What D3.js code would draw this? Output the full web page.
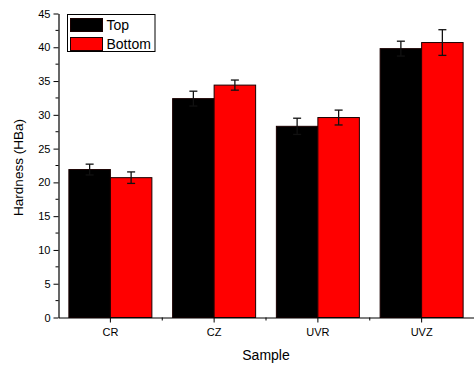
<!DOCTYPE html>
<html>
<head>
<meta charset="utf-8">
<script src="https://cdn.jsdelivr.net/npm/d3@7"></script>
<style>
  html, body { margin: 0; padding: 0; background: #fff; }
  svg { display: block; font-family: Arial, "Liberation Sans", sans-serif; }
</style>
</head>
<body>
<svg id="chart" width="475" height="365"></svg>
<script>
// Hardness by sample, top and bottom surfaces
const categories = ["CR", "CZ", "UVR", "UVZ"];
const seriesNames = ["Top", "Bottom"];
const topValues = [21.9, 32.4, 28.3, 39.8];
const topErrors = [0.8, 1.1, 1.2, 1.1];
const bottomValues = [20.7, 34.4, 29.6, 40.7];
const bottomErrors = [0.85, 0.75, 1.1, 1.9];
const yTicks = [0, 5, 10, 15, 20, 25, 30, 35, 40, 45];
const seriesColors = ["#000000", "#ff0000"];

const svg = d3.select("#chart");
const margin = { left: 58.5, right: 1.5, top: 13.5, bottom: 47.5 };
const W = 475, H = 365;
const x0 = margin.left, x1 = W - margin.right;
const y0 = H - margin.bottom, y1 = margin.top;

const x = d3.scaleBand().domain(categories).range([x0, x1]).paddingInner(0.2).paddingOuter(0.1);
const step = (x1 - x0) / categories.length;
const xSub = d3.scaleBand().domain(seriesNames).range([0, x.bandwidth()]);
const y = d3.scaleLinear().domain([0, 45]).range([y0, y1]);

const rows = categories.map((c, i) => ({
  cat: c,
  vals: [
    { s: "Top", v: topValues[i], e: topErrors[i], color: seriesColors[0] },
    { s: "Bottom", v: bottomValues[i], e: bottomErrors[i], color: seriesColors[1] }
  ]
}));

// Bars
const g = svg.append("g");
const groups = g.selectAll("g.cat").data(rows).join("g")
  .attr("transform", d => `translate(${x(d.cat)},0)`);
groups.selectAll("rect").data(d => d.vals).join("rect")
  .attr("x", d => xSub(d.s))
  .attr("width", xSub.bandwidth())
  .attr("y", d => y(d.v))
  .attr("height", d => y(0) - y(d.v))
  .attr("fill", d => d.color)
  .attr("stroke", "#1a0000")
  .attr("stroke-width", 1);

// Error bars
const eb = groups.selectAll("g.err").data(d => d.vals).join("g")
  .attr("stroke", "#111").attr("stroke-width", 1.3).attr("fill", "none");
const cx = d => xSub(d.s) + xSub.bandwidth() / 2;
eb.append("line").attr("x1", cx).attr("x2", cx)
  .attr("y1", d => y(d.v + d.e)).attr("y2", d => y(d.v - d.e));
eb.append("line").attr("x1", d => cx(d) - 4).attr("x2", d => cx(d) + 4)
  .attr("y1", d => y(d.v + d.e)).attr("y2", d => y(d.v + d.e));
eb.append("line").attr("x1", d => cx(d) - 4).attr("x2", d => cx(d) + 4)
  .attr("y1", d => y(d.v - d.e)).attr("y2", d => y(d.v - d.e));

// Y axis with minor ticks
const yAxis = d3.axisLeft(y).tickValues(yTicks).tickSize(5).tickPadding(3).tickSizeOuter(0);
const yg = svg.append("g").attr("transform", `translate(${x0},0)`).call(yAxis);
yg.selectAll("text").attr("font-size", 11).attr("fill", "#000");
yg.selectAll("line").attr("stroke", "#000");
yg.select(".domain").attr("stroke", "#000").attr("stroke-width", 1.2);
const minor = d3.range(2.5, 45, 5);
svg.append("g").selectAll("line").data(minor).join("line")
  .attr("x1", x0 - 3).attr("x2", x0)
  .attr("y1", d => y(d)).attr("y2", d => y(d))
  .attr("stroke", "#000");

// X axis
const xAxis = d3.axisBottom(x).tickSize(5).tickPadding(6).tickSizeOuter(0);
const xg = svg.append("g").attr("transform", `translate(0,${y0})`).call(xAxis);
xg.selectAll("text").attr("font-size", 11).attr("fill", "#000");
xg.selectAll("line").attr("stroke", "#000");
xg.select(".domain").attr("stroke", "#000").attr("stroke-width", 1.2);
// minor ticks between categories
svg.append("g").selectAll("line").data(d3.range(1, categories.length)).join("line")
  .attr("x1", d => x0 + d * step).attr("x2", d => x0 + d * step)
  .attr("y1", y0).attr("y2", y0 + 3)
  .attr("stroke", "#000");

// Axis titles
svg.append("text").attr("x", (x0 + x1) / 2).attr("y", 360)
  .attr("text-anchor", "middle").attr("font-size", 14).text("Sample");
svg.append("text").attr("transform", `translate(23,${(y0 + y1) / 2 + 2}) rotate(-90)`)
  .attr("text-anchor", "middle").attr("font-size", 13.5).text("Hardness (HBa)");

// Legend
const lg = svg.append("g").attr("transform", "translate(67.5,14.5)");
lg.append("rect").attr("width", 87.5).attr("height", 37)
  .attr("fill", "#fff").attr("stroke", "#000").attr("stroke-width", 1);
seriesNames.forEach((name, i) => {
  lg.append("rect").attr("x", 3).attr("y", 4 + i * 19).attr("width", 32).attr("height", 13)
    .attr("fill", seriesColors[i]).attr("stroke", "#1a0000");
  lg.append("text").attr("x", 39).attr("y", 15 + i * 19)
    .attr("font-size", 14).text(name);
});
</script>
</body>
</html>
